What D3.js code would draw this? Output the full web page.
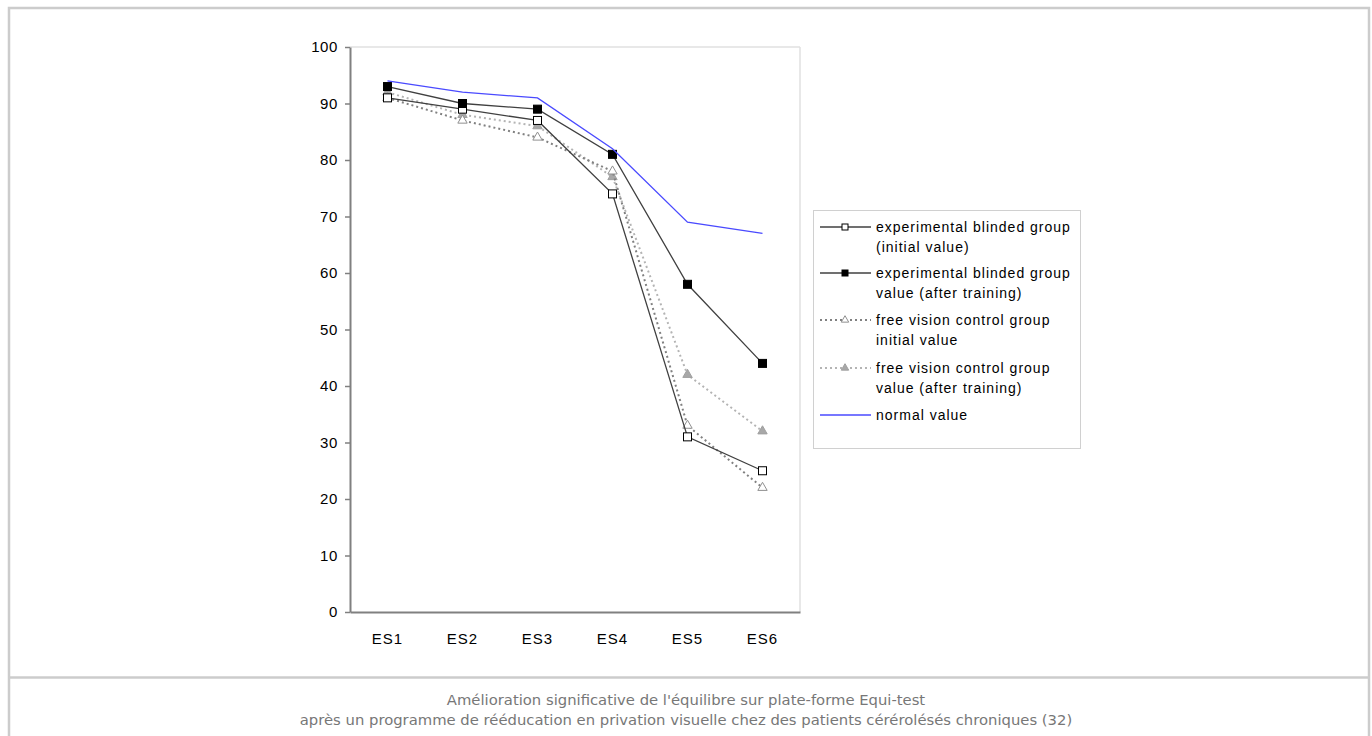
<!DOCTYPE html>
<html><head><meta charset="utf-8">
<script src="https://cdn.jsdelivr.net/npm/d3@7"></script>
<style>
html,body{margin:0;padding:0;background:#fff;}
</style></head>
<body>
<svg id="c" width="1372" height="736"></svg>
<script>
const categories = ["ES1","ES2","ES3","ES4","ES5","ES6"];
const expInitial = [91, 89, 87, 74, 31, 25];
const expAfter = [93, 90, 89, 81, 58, 44];
const freeInitial = [91, 87, 84, 78, 33, 22];
const freeAfter = [92, 88, 86, 77, 42, 32];
const normalValue = [94, 92, 91, 82, 69, 67];
const yTicks = [0,10,20,30,40,50,60,70,80,90,100];
const legendLabels = [
  ["experimental blinded group","(initial value)"],
  ["experimental blinded group","value (after training)"],
  ["free vision control group","initial value"],
  ["free vision control group","value (after training)"],
  ["normal value"]
];
const captionLines = [
  "Amélioration significative de l'équilibre sur plate-forme Equi-test",
  "après un programme de rééducation en privation visuelle chez des patients cérérolésés chroniques (32)"
];

const series = [
  {name:"freeAfter", values:freeAfter, stroke:"#b4b4b4", dash:"2,3", marker:"tri", mfill:"#a8a8a8", mstroke:"#a0a0a0"},
  {name:"freeInitial", values:freeInitial, stroke:"#808080", dash:"2,3", marker:"tri", mfill:"#fff", mstroke:"#909090"},
  {name:"expInitial", values:expInitial, stroke:"#404040", dash:null, marker:"sq", mfill:"#fff", mstroke:"#000"},
  {name:"expAfter", values:expAfter, stroke:"#404040", dash:null, marker:"sq", mfill:"#000", mstroke:"#000"},
  {name:"normal", values:normalValue, stroke:"#4a4aff", dash:null, marker:null}
];
const legendOrder = ["expInitial","expAfter","freeInitial","freeAfter","normal"];

const svg = d3.select("#c");
const FONT = "Liberation Sans, Arial, sans-serif";
// outer frame
svg.append("rect").attr("x",9).attr("y",8).attr("width",1360).attr("height",740)
  .attr("fill","none").attr("stroke","#cccccc").attr("stroke-width",2.5);
svg.append("line").attr("x1",9).attr("x2",1369).attr("y1",677.5).attr("y2",677.5)
  .attr("stroke","#cccccc").attr("stroke-width",2.5);

const L=350, R=800, T=47, B=612;
const x = d3.scaleBand().domain(categories).range([L,R]);
const y = d3.scaleLinear().domain([0,100]).range([B,T]);
const cx = c => x(c)+x.bandwidth()/2;

// plot area border (top and right)
svg.append("line").attr("x1",L).attr("x2",R).attr("y1",T).attr("y2",T).attr("stroke","#e0e0e0").attr("stroke-width",1.5);
svg.append("line").attr("x1",R).attr("x2",R).attr("y1",T).attr("y2",B).attr("stroke","#e0e0e0").attr("stroke-width",1.5);

// y axis
const yAx = svg.append("g").attr("transform",`translate(${L},0)`)
  .call(d3.axisLeft(y).tickValues(yTicks).tickSize(5).tickSizeOuter(0));
yAx.select(".domain").attr("stroke","#808080").attr("stroke-width",2);
yAx.selectAll(".tick line").attr("stroke","#808080").attr("stroke-width",1.5);
yAx.selectAll(".tick text").attr("font-family",FONT).attr("font-size",15).attr("letter-spacing","0.6px").attr("fill","#000").attr("dx",-4);

// x axis
const xAx = svg.append("g").attr("transform",`translate(0,${B})`)
  .call(d3.axisBottom(x).tickSize(0).tickSizeOuter(0));
xAx.select(".domain").attr("stroke","#808080").attr("stroke-width",2);
xAx.selectAll(".tick text").attr("font-family",FONT).attr("font-size",15).attr("letter-spacing","1px").attr("fill","#000").attr("y",21).attr("dy","0.71em");

const line = d3.line().x((d,i)=>cx(categories[i])).y(d=>y(d));
const tri = d3.symbol().type(d3.symbolTriangle).size(38);

function drawMarker(g, s, px, py){
  if(s.marker==="sq"){
    g.append("rect").attr("x",px-4).attr("y",py-4).attr("width",8).attr("height",8)
      .attr("fill",s.mfill).attr("stroke",s.mstroke).attr("stroke-width",1);
  } else if(s.marker==="tri"){
    g.append("path").attr("d",tri()).attr("transform",`translate(${px},${py})`)
      .attr("fill",s.mfill).attr("stroke",s.mstroke).attr("stroke-width",1);
  }
}

series.forEach(s=>{
  const g = svg.append("g");
  g.append("path").datum(s.values).attr("d",line).attr("fill","none")
    .attr("stroke",s.stroke).attr("stroke-width", s.dash?2:1.3)
    .attr("stroke-dasharray",s.dash);
  if(s.marker){
    s.values.forEach((v,i)=>drawMarker(g,s,cx(categories[i]),y(v)));
  }
});

// legend
const lg = svg.append("g");
lg.append("rect").attr("x",813.5).attr("y",210.5).attr("width",267).attr("height",238)
  .attr("fill","#fff").attr("stroke","#d0d0d0").attr("stroke-width",1);
const entryY = [227, 273, 320, 368, 415];
legendOrder.forEach((nm,k)=>{
  const s = series.find(d=>d.name===nm);
  const yy = entryY[k];
  lg.append("line").attr("x1",820).attr("x2",871).attr("y1",yy).attr("y2",yy)
    .attr("stroke",s.stroke).attr("stroke-width",s.dash?2:1.3).attr("stroke-dasharray",s.dash);
  if(s.marker){
    if(s.marker==="sq"){
      lg.append("rect").attr("x",842).attr("y",yy-3).attr("width",6).attr("height",6)
        .attr("fill",s.mfill).attr("stroke",s.mstroke).attr("stroke-width",1);
    } else {
      lg.append("path").attr("d",d3.symbol().type(d3.symbolTriangle).size(24)()).attr("transform",`translate(845,${yy})`)
        .attr("fill",s.mfill).attr("stroke",s.mstroke).attr("stroke-width",1);
    }
  }
  legendLabels[k].forEach((t,j)=>{
    lg.append("text").attr("x",876).attr("y",yy+20*j).attr("dy","0.35em")
      .attr("font-family",FONT).attr("font-size",14).attr("letter-spacing","1px")
      .attr("fill","#000").text(t);
  });
});

// caption
captionLines.forEach((t,i)=>{
  svg.append("text").attr("x",686).attr("y",700+20*i).attr("dy","0.35em")
    .attr("text-anchor","middle").attr("font-family","DejaVu Sans, sans-serif")
    .attr("font-size",14.8).attr("fill","#777").text(t);
});
</script>
</body></html>
